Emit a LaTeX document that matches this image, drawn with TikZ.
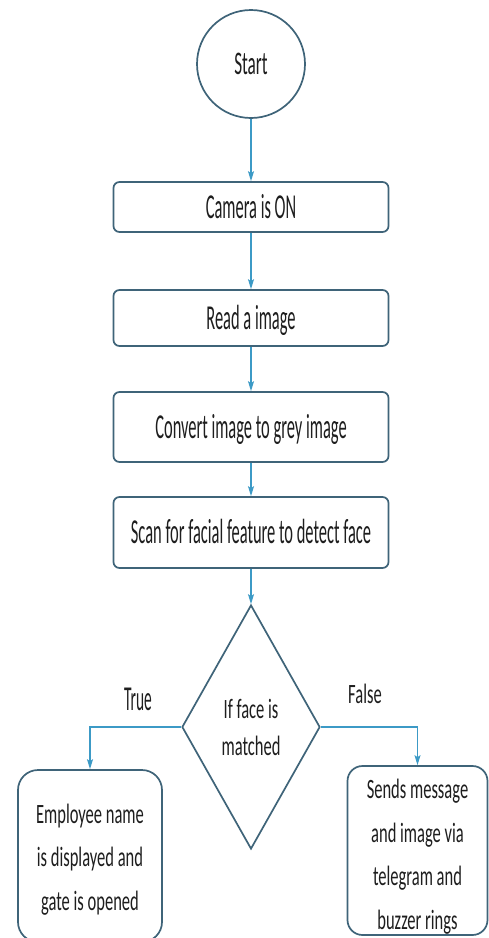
\documentclass[tikz,border=0pt]{standalone}
\usepackage{fontspec}
\usetikzlibrary{shapes.geometric,arrows.meta}

% Narrow Calibri-like faces for the flowchart labels
\newfontfamily\tallface[FakeStretch=0.47]{Carlito}
\newfontfamily\roundface[FakeStretch=0.52]{Carlito}
\newfontfamily\lowface[FakeStretch=0.59]{Carlito}
\newfontfamily\trueface[FakeStretch=0.44]{Carlito}

\definecolor{edgeblue}{HTML}{3F6479}
\definecolor{flowblue}{HTML}{3C9AC6}
\definecolor{ink}{HTML}{1E1E1E}

\tikzset{
  outline/.style={draw=edgeblue, line width=1.7pt, fill=white},
  stepbox/.style={outline, rounded corners=6pt, minimum width=275pt, inner sep=0pt,
    text=ink, font=\tallface\fontsize{35}{40}\selectfont, text height=22pt, text depth=0pt},
  endbox/.style={outline, inner sep=0pt},
  % multi-line text: the base anchor sits on the last line's baseline
  endtext/.style={text=ink, align=center, inner sep=0pt, anchor=base,
    font=\lowface\fontsize{28}{43.5}\selectfont},
  flow/.style={draw=flowblue, line width=1.1pt, -{Stealth[length=10pt,width=6pt,inset=2pt]}},
  branchlabel/.style={text=ink, inner sep=0pt, anchor=base}
}

\begin{document}
\begin{tikzpicture}[x=1pt,y=-1pt]
\useasboundingbox[fill=white] (0,0) rectangle (489,938);

% start terminal
\node[outline, circle, minimum size=108pt, inner sep=0pt, text=ink,
      font=\roundface\fontsize{33}{40}\selectfont, text height=21pt, text depth=0pt]
      (start) at (251,64) {Start};

% processing steps
\node[stepbox, minimum height=50pt] (cam)  at (251,207)   {Camera is ON};
\node[stepbox, minimum height=56pt] (read) at (251,318)   {Read a image};
\node[stepbox, minimum height=70pt] (grey) at (251,427)   {Convert image to grey image};
\node[stepbox, minimum height=71pt] (scan) at (251,532.5) {Scan for facial feature to detect face};

% decision
\node[outline, diamond, aspect=0.566, minimum width=138pt, minimum height=244pt,
      inner sep=0pt, align=center, text=ink,
      font=\lowface\fontsize{28}{37}\selectfont]
      (match) at (251,727) {If face is\\matched};

% outcomes
\node[endbox, rounded corners=20pt, minimum width=144pt, minimum height=172pt]
      (okbox) at (90,856) {};
\node[endtext] (oktext) at (90,910) {Employee name\\is displayed and\\gate is opened};

\node[endbox, rounded corners=15pt, minimum width=140pt, minimum height=169pt]
      (badbox) at (417.5,850.5) {};
\node[endtext] (badtext) at (417.5,929) {Sends message\\and image via\\telegram and\\buzzer rings};

% branch labels
\node[branchlabel, font=\trueface\fontsize{35}{40}\selectfont] (truelbl) at (138,710) {True};
\node[branchlabel, font=\lowface\fontsize{28}{40}\selectfont] (falselbl) at (365,703) {False};

% connectors
\draw[flow] (start.south) -- (cam.north);
\draw[flow] (cam.south) -- (read.north);
\draw[flow] (read.south) -- (grey.north);
\draw[flow] (grey.south) -- (scan.north);
\draw[flow] (scan.south) -- (match.north);
\draw[flow] (match.west) -| (okbox.north);
\draw[flow] (match.east) -| (badbox.north);
\end{tikzpicture}
\end{document}
